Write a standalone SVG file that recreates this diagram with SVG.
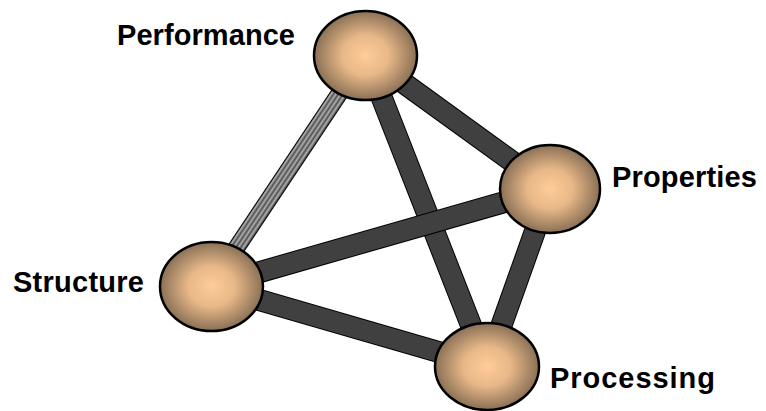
<svg xmlns="http://www.w3.org/2000/svg" width="766" height="411" viewBox="0 0 766 411">
  <defs>
    <radialGradient id="ball" cx="50%" cy="50%" r="50%">
      <stop offset="0" stop-color="#FFCC99"/>
      <stop offset="0.45" stop-color="#E8B888"/>
      <stop offset="1" stop-color="#8A7056"/>
    </radialGradient>
    <!-- stripes running along the Performance–Structure link -->
    <linearGradient id="stripes" gradientUnits="userSpaceOnUse" x1="339" y1="93" x2="342.3" y2="95.2" spreadMethod="repeat">
      <stop offset="0" stop-color="#505050"/>
      <stop offset="0.5" stop-color="#B0B0B0"/>
      <stop offset="1" stop-color="#505050"/>
    </linearGradient>
  </defs>
  <style>
    .edge-outline { stroke: #000; stroke-width: 22; stroke-linecap: butt; }
    .edge { stroke: #404040; stroke-width: 20; stroke-linecap: butt; }
    .ball { fill: url(#ball); stroke: #000; stroke-width: 2.5; }
    .label { font-family: "Liberation Sans", Arial, sans-serif; font-weight: bold; font-size: 29px; fill: #000; }
  </style>
  <rect width="766" height="411" fill="#fff"/>

  <g id="connectors">
    <line class="edge-outline" x1="365" y1="55" x2="550" y2="189"/>
    <line class="edge" x1="365" y1="55" x2="550" y2="189"/>
    <line class="edge-outline" x1="365" y1="55" x2="487" y2="366"/>
    <line class="edge" x1="365" y1="55" x2="487" y2="366"/>
    <line class="edge-outline" x1="211" y1="286" x2="550" y2="189"/>
    <line class="edge" x1="211" y1="286" x2="550" y2="189"/>
    <line class="edge-outline" x1="211" y1="286" x2="487" y2="366"/>
    <line class="edge" x1="211" y1="286" x2="487" y2="366"/>
    <line class="edge-outline" x1="550" y1="189" x2="487" y2="366"/>
    <line class="edge" x1="550" y1="189" x2="487" y2="366"/>
    <line x1="365" y1="55" x2="211" y2="286" stroke="#000" stroke-width="17.5"/>
    <line x1="365" y1="55" x2="211" y2="286" stroke="url(#stripes)" stroke-width="15.5"/>
  </g>

  <g id="performance">
    <ellipse class="ball" cx="365.5" cy="55.5" rx="51.5" ry="44.5"/>
    <text class="label" x="117" y="45" textLength="178">Performance</text>
  </g>
  <g id="properties">
    <ellipse class="ball" cx="550" cy="189" rx="50" ry="44"/>
    <text class="label" x="612" y="187" textLength="145">Properties</text>
  </g>
  <g id="structure">
    <ellipse class="ball" cx="211.5" cy="286.5" rx="51.5" ry="44.5"/>
    <text class="label" x="13" y="292" textLength="131">Structure</text>
  </g>
  <g id="processing">
    <ellipse class="ball" cx="487" cy="366.5" rx="52" ry="43.5"/>
    <text class="label" x="550" y="388" textLength="165">Processing</text>
  </g>
</svg>
